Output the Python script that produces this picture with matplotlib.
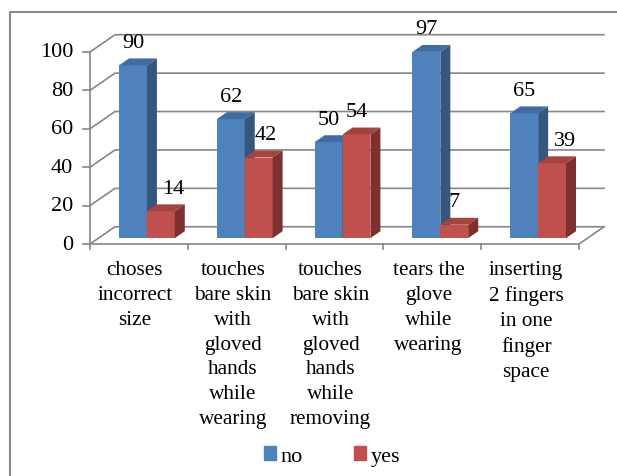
import matplotlib.pyplot as plt
from matplotlib.patches import Polygon, Patch
from matplotlib.lines import Line2D

# data
categories = ['choses\nincorrect\nsize',
              'touches\nbare skin\nwith\ngloved\nhands\nwhile\nwearing',
              'touches\nbare skin\nwith\ngloved\nhands\nwhile\nremoving',
              'tears the\nglove\nwhile\nwearing',
              'inserting\n2 fingers\nin one\nfinger\nspace']
no_vals = [90, 62, 50, 97, 65]
yes_vals = [14, 42, 54, 7, 39]
series_names = ['no', 'yes']
yticks = [0, 20, 40, 60, 80, 100]

# look
face = ['#4F81BD', '#C0504D']
top = ['#3F6CA3', '#A5433F']
side = ['#34577F', '#7F2F2D']
grid_c = '#878787'
font = 'Liberation Serif'
fs = 16

# fake 3d: depth shift (in data units) of the back wall
DX, DY = 0.256, 9.0
d0, d1 = 0.34, 0.74     # bar front / back depth
bw = 0.285              # bar width
off = 0.21              # gap before first bar of a group

fig = plt.figure(figsize=(6.17, 4.77), dpi=100)
ax = fig.add_axes([0, 0, 1, 1])
ax.set_xlim(-0.92, 5.3885)
ax.set_ylim(-120.8, 127.6)
ax.axis('off')

n = len(categories)

def P(x, v, d):
    return (x + d * DX, v + d * DY)

# walls: left wall diagonals + back gridlines
for t in yticks:
    xs, ys = zip(P(0, t, 0), P(0, t, 1), P(n, t, 1))
    ax.plot(xs, ys, color=grid_c, lw=1.2, zorder=1)
    ax.plot([-0.07, 0], [t, t], color=grid_c, lw=1.2, zorder=1)
    ax.text(-0.17, t, str(t), ha='right', va='center', fontsize=fs, family=font)
# front axis + floor
ax.plot([0, 0], [-2.8, 100], color=grid_c, lw=1.2, zorder=1)
xs, ys = zip(P(0, 0, 0), P(n, 0, 0), P(n, 0, 1))
ax.plot(xs, ys, color=grid_c, lw=1.2, zorder=1)
for i in range(1, n + 1):
    ax.plot([i, i], [0, -2.8], color=grid_c, lw=1.2, zorder=1)

label_nudge = [[0, 0.13], [0, 0.07], [0, 0], [0, 0], [0, 0.13]]

z = 2
for i in range(n):
    for s, vals in enumerate([no_vals, yes_vals]):
        v = vals[i]
        x0 = i + off + s * bw
        x1 = x0 + bw
        fx, fy = P(x0, 0, d0)
        ax.bar(fx, v, width=bw, bottom=fy, align='edge', color=face[s],
               lw=0, zorder=z)
        ax.add_patch(Polygon([P(x0, v, d0), P(x1, v, d0), P(x1, v, d1), P(x0, v, d1)],
                             closed=True, color=top[s], lw=0, zorder=z))
        ax.add_patch(Polygon([P(x1, 0, d0), P(x1, v, d0), P(x1, v, d1), P(x1, 0, d1)],
                             closed=True, color=side[s], lw=0, zorder=z))
        lx, ly = P((x0 + x1) / 2 + label_nudge[i][s], v, d0)
        ax.text(lx, ly + 12, str(v), ha='center', va='center', fontsize=fs,
                family=font, zorder=10)
        z += 1

for i, c in enumerate(categories):
    ax.text(i + 0.46, -8.3, c, ha='center', va='top', fontsize=15.3, family=font,
            linespacing=1.42)

handles = [Patch(color=face[k], label=series_names[k]) for k in range(2)]
fig.legend(handles=handles, loc='center', bbox_to_anchor=(0.538, 0.042), ncol=2,
           frameon=False, prop={'family': font, 'size': fs}, handlelength=0.55,
           handleheight=0.55, handletextpad=0.2, columnspacing=2.3)

# outer frame (left + top only)
fig.add_artist(Line2D([10 / 617, 10 / 617, 1], [0, 1 - 13 / 477, 1 - 13 / 477],
                      transform=fig.transFigure, color='#8a8a8a', lw=1.5))

fig.savefig('out.png', dpi=100)
